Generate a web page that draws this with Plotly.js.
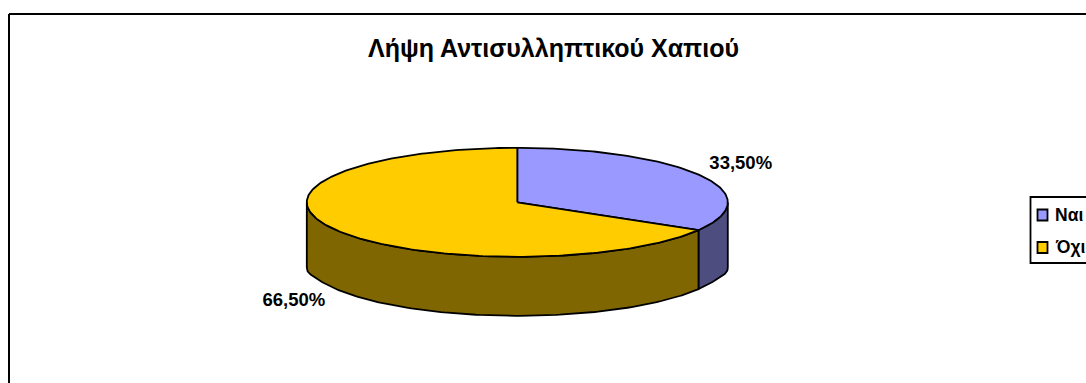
<!DOCTYPE html>
<html lang="el">
<head>
<meta charset="utf-8">
<title>Λήψη Αντισυλληπτικού Χαπιού</title>
<script src="https://cdn.plot.ly/plotly-3.0.1.min.js"></script>
<style>html,body{margin:0;padding:0;background:#fff;overflow:hidden}#chart{width:1086px;height:383px}</style>
</head>
<body>
<div id="chart"></div>
<script>
// Survey answers
const categories = ["Ναι", "Όχι"];
const shares = [33.5, 66.5];
const topColors = ["#9999FF", "#FFCC00"];
const wallColors = ["#4D4D80", "#806600"];
const chartTitle = "Λήψη Αντισυλληπτικού Χαπιού";

// Canvas and tilted-disc geometry, in pixels
const W = 1086, H = 383;
const CX = 517.3, CY = 202.3, RX = 210.5, RY = 54.5, DEPTH_PX = 59, EDGE_SAG_PX = 6;
const DEPTH = DEPTH_PX / RY;           // wall height in y-axis units
const EDGE_SAG = EDGE_SAG_PX / RY;     // walls run a little longer at the far left and right
const FONT = "Liberation Sans, Arial, sans-serif";
const OUTLINE = {color: "#000", width: 1.8};

const rad = d => d * Math.PI / 180;
const arc = (a, b, drop = () => 0) => {
  const n = Math.max(1, Math.ceil(Math.abs(b - a)));
  const xs = [], ys = [];
  for (let i = 0; i <= n; i++) {
    const t = rad(a + (b - a) * i / n);
    xs.push(Math.sin(t));
    ys.push(Math.cos(t) - drop(t));
  }
  return {xs, ys};
};
const lowerRim = t => DEPTH + EDGE_SAG * Math.pow(Math.abs(Math.sin(t)), 40);

// Slice bounds, clockwise from twelve o'clock
const total = shares.reduce((s, v) => s + v, 0);
let cursor = 0;
const slices = shares.map(v => {
  const start = cursor;
  cursor += v / total * 360;
  return {start, end: cursor, mid: (start + cursor) / 2};
});

const traces = [];

// Outer walls: only the front half of the rim (90° to 270°) faces the viewer
slices.forEach((s, i) => {
  const a = Math.max(s.start, 90), b = Math.min(s.end, 270);
  if (a >= b) return;
  const up = arc(a, b), down = arc(b, a, lowerRim);
  traces.push({
    type: "scatter", mode: "lines", fill: "toself", fillcolor: wallColors[i],
    x: [...up.xs, ...down.xs, up.xs[0]], y: [...up.ys, ...down.ys, up.ys[0]],
    line: OUTLINE, hoverinfo: "skip", showlegend: false
  });
});

// Top faces
slices.forEach((s, i) => {
  const r = arc(s.start, s.end);
  traces.push({
    type: "scatter", mode: "lines", fill: "toself", fillcolor: topColors[i],
    x: [0, ...r.xs, 0], y: [0, ...r.ys, 0],
    line: OUTLINE, name: categories[i], hoverinfo: "name", showlegend: false
  });
});

// Percentage labels beside each slice, with a decimal comma
traces.push({
  type: "scatter", mode: "text",
  x: slices.map(s => 1.222 * Math.sin(rad(s.mid))),
  y: slices.map(s => {
    const c = Math.cos(rad(s.mid));
    return 1.42 * c - (c < 0 ? DEPTH + 0.03 : 0);
  }),
  text: shares.map(v => v.toFixed(2).replace(".", ",") + "%"),
  textposition: "middle center",
  textfont: {family: FONT, size: 18.5, color: "#000", weight: 700},
  hoverinfo: "skip", showlegend: false
});

// Pixel position to paper fraction, for the frame and the key
const px = x => x / W, py = y => 1 - y / H;

const frame = [
  {x0: px(9), x1: 1, y0: py(14), y1: py(14)},
  {x0: px(9), x1: px(9), y0: py(14), y1: 0}
].map(l => ({type: "line", xref: "paper", yref: "paper", line: {color: "#000", width: 2}, ...l}));

// Key box runs off the right edge of the canvas
const KEY = {left: 1030.5, top: 197, bottom: 263, rows: [215, 247.5]};
const keyShapes = [
  {x0: px(KEY.left), x1: px(W + 10), y0: py(KEY.top), y1: py(KEY.bottom), line: {color: "#000", width: 1.8}, fillcolor: "#fff"},
  ...categories.map((_, i) => ({
    x0: px(1037.5), x1: px(1047.5), y0: py(KEY.rows[i] - 5.5), y1: py(KEY.rows[i] + 5.5),
    line: {color: "#000", width: 1.8}, fillcolor: topColors[i]
  }))
].map(s => ({type: "rect", xref: "paper", yref: "paper", layer: "above", ...s}));

const keyLabels = categories.map((c, i) => ({
  text: c, xref: "paper", yref: "paper", x: px(1053), y: py(KEY.rows[i]),
  xanchor: "left", yanchor: "middle", showarrow: false,
  font: {family: FONT, size: 17.5, color: "#000", weight: 700}
}));

const layout = {
  width: W, height: H,
  margin: {l: 0, r: 0, t: 0, b: 0},
  paper_bgcolor: "#fff", plot_bgcolor: "#fff",
  showlegend: false,
  title: {
    text: chartTitle, x: 553.5 / W, xanchor: "center", y: 1 - 48.5 / H, yanchor: "middle",
    font: {family: FONT, size: 25, color: "#000", weight: 700}
  },
  // The axis spans set the tilt: a unit circle lands as the flattened disc
  xaxis: {range: [-CX / RX, (W - CX) / RX], visible: false, fixedrange: true},
  yaxis: {range: [-(H - CY) / RY, CY / RY], visible: false, fixedrange: true},
  shapes: [...frame, ...keyShapes],
  annotations: keyLabels
};

Plotly.newPlot("chart", traces, layout, {displayModeBar: false, responsive: false});
</script>
</body>
</html>
